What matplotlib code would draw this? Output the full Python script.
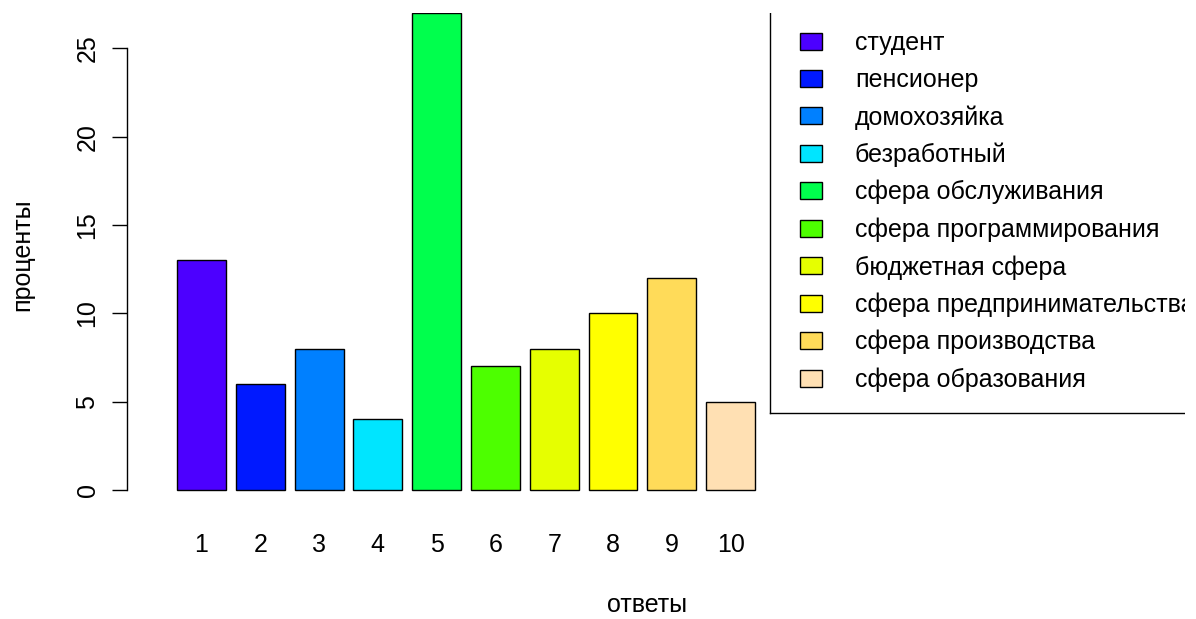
import matplotlib
matplotlib.use('Agg')
from matplotlib import pyplot as plt
from matplotlib.patches import Patch
from matplotlib.lines import Line2D

answers = [1, 2, 3, 4, 5, 6, 7, 8, 9, 10]
percents = [13, 6, 8, 4, 27, 7, 8, 10, 12, 5]
groups = ['студент', 'пенсионер', 'домохозяйка', 'безработный',
          'сфера обслуживания', 'сфера программирования', 'бюджетная сфера',
          'сфера предпринимательства', 'сфера производства', 'сфера образования']
# topo.colors(10)
colors = ['#4C00FF', '#0019FF', '#0080FF', '#00E5FF', '#00FF4D',
          '#4DFF00', '#E6FF00', '#FFFF00', '#FFDB59', '#FFE0B3']
y_ticks = [0, 5, 10, 15, 20, 25]

plt.rcParams['font.family'] = ['Liberation Sans', 'DejaVu Sans']
fs = 18

W, H = 1196, 619
fig = plt.figure(figsize=(W / 100, H / 100), dpi=100)
left, right, top, bottom = 127, 1185, 13, 509
ax = fig.add_axes([left / W, 1 - bottom / H, (right - left) / W, (bottom - top) / H])

ax.bar(answers, percents, width=0.833, color=colors, edgecolor='black', linewidth=1.0)

ax.set_xlim(-0.267, 17.73)
ax.set_ylim(-1.08, 27)

for side in ['top', 'right', 'bottom']:
    ax.spines[side].set_visible(False)
ax.spines['left'].set_bounds(0, 25)
ax.spines['left'].set_linewidth(1.0)

ax.set_yticks(y_ticks)
ax.set_yticklabels([str(t) for t in y_ticks], rotation=90, va='center', fontsize=fs)
ax.tick_params(axis='y', length=10.8, width=1.0, pad=9)
ax.set_xticks(answers)
ax.set_xticklabels([str(a) for a in answers], fontsize=fs)
ax.tick_params(axis='x', length=0, pad=17)

ax.set_xlabel('ответы', fontsize=fs, va='center')
ax.xaxis.set_label_coords((647 - left) / (right - left), (bottom - 605) / (bottom - top))
ax.set_ylabel('проценты', fontsize=fs, va='center')
ax.yaxis.set_label_coords((22 - left) / (right - left), (bottom - 255) / (bottom - top))

# legend box: only left and bottom sides visible, clipped by the plot region
x0 = -0.267 + (770 - left) / 58.8
y0 = -1.08 + (bottom - 413) / 17.68
ax.add_line(Line2D([x0, x0], [y0, 30], color='black', linewidth=1.0, clip_on=True))
ax.add_line(Line2D([x0, 20], [y0, y0], color='black', linewidth=1.0, clip_on=True))

handles = [Patch(facecolor=c, edgecolor='black', linewidth=1.0) for c in colors]
leg = ax.legend(handles, groups, loc='upper left',
                bbox_to_anchor=((800 - left) / (right - left), (bottom - 31) / (bottom - top)),
                frameon=False, fontsize=fs, handlelength=0.88, handleheight=0.68,
                handletextpad=1.32, labelspacing=0.52, borderpad=0, borderaxespad=0)
for t in leg.get_texts():
    t.set_clip_box(ax.bbox)
    t.set_clip_on(True)

fig.savefig('out.png', dpi=100)
